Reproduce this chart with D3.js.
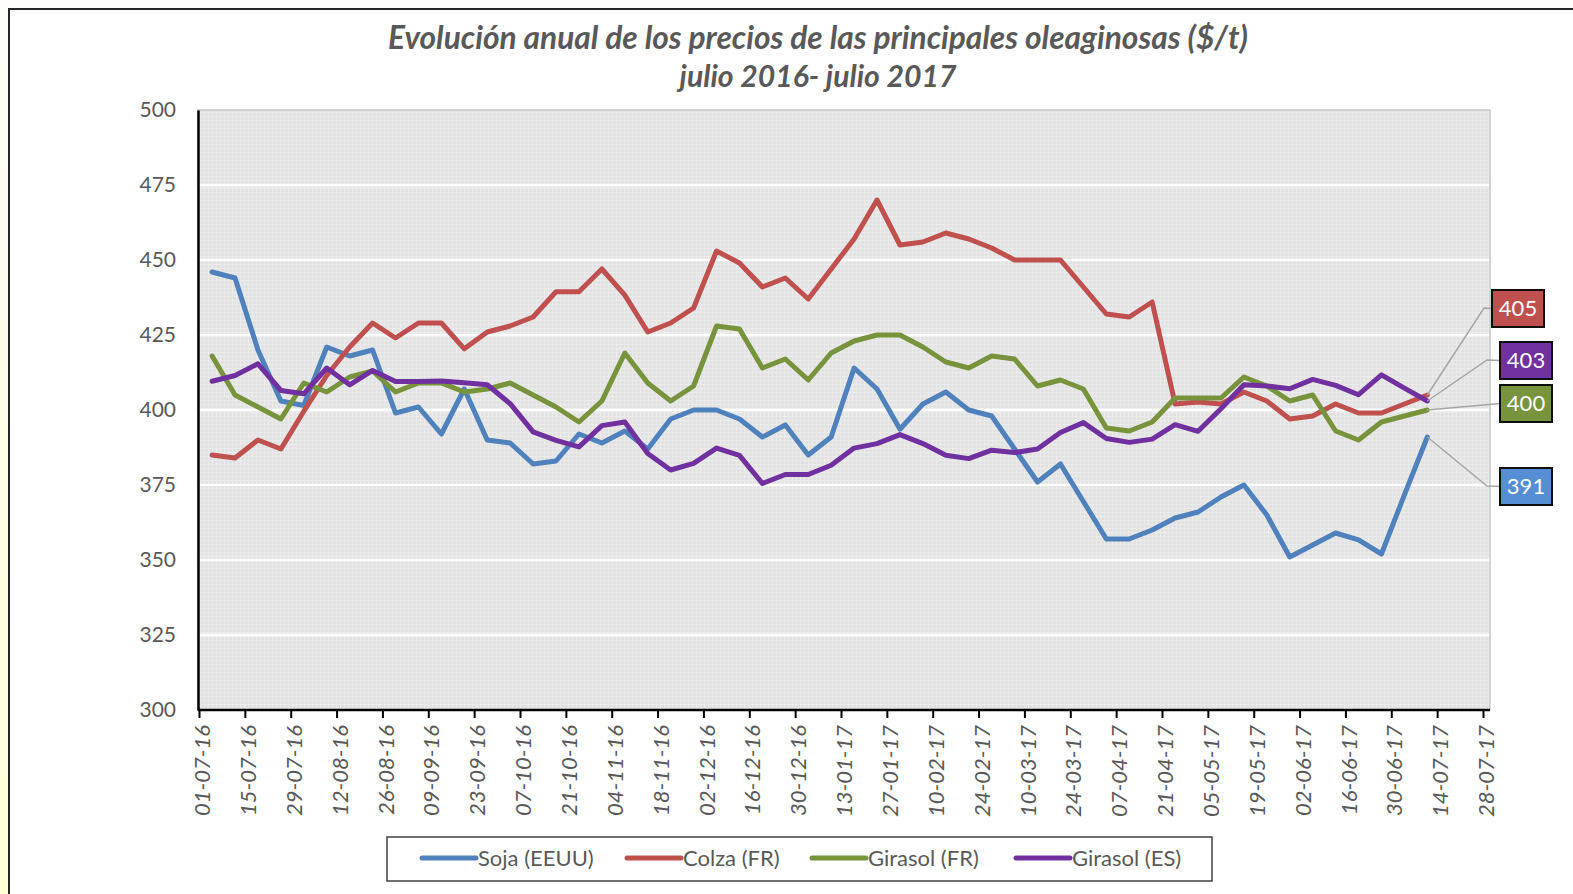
<!DOCTYPE html>
<html>
<head>
<meta charset="utf-8">
<script src="https://cdn.jsdelivr.net/npm/d3@7"></script>
<style>
  html, body { margin: 0; padding: 0; }
  body { width: 1573px; height: 894px; overflow: hidden; background: linear-gradient(#fffef8, #ffffd6); }
  svg { display: block; font-family: Lato, "Open Sans", sans-serif; }
</style>
</head>
<body>
<svg id="chart" width="1573" height="894"></svg>
<script>
const parse = d3.timeParse('%d-%m-%y');
const fmt = d3.timeFormat('%d-%m-%y');

// weekly quotes, 05-07-16 .. 11-07-17
const dates = d3.timeDay.range(parse('05-07-16'), parse('12-07-17'), 7);

const soja = [446, 444, 420, 403, 401.5, 421, 418, 420, 399, 401, 392, 407, 390, 389, 382, 383, 392, 389,
  393, 387, 397, 400, 400, 397, 391, 395, 385, 391, 414, 407, 393.6, 402, 406, 400, 398, 387,
  376, 382, 369.5, 357, 357, 360, 364, 366, 371, 375, 365, 351, 355, 359, 356.7, 352, 371.7, 391];
const colza = [385, 384, 390, 387, 399.6, 411.5, 421, 429, 424, 429, 429, 420.4, 426, 428, 431, 439.4, 439.4, 447,
  438.3, 426, 429, 434, 453, 449, 441, 444, 437, 447, 457, 470, 455, 456, 459, 457, 454, 450,
  450, 450, 441, 432, 431, 436, 402, 402.7, 402, 406, 403, 397, 398, 402, 399, 399, 402, 405];
const girasolFR = [418, 405, 401, 397, 409, 406, 411, 413, 406, 409, 409, 406, 407, 409, 405, 401, 396, 403,
  419, 409, 403, 408, 428, 427, 414, 417, 410, 419, 423, 425, 425, 421, 416, 414, 418, 417,
  408, 410, 407, 394, 393, 396, 404, 404, 404, 411, 408, 403, 405, 393, 390, 396, 398, 400];
const girasolES = [409.6, 411.5, 415.4, 406.5, 405.4, 414, 408.4, 413.2, 409.5, 409.5, 409.7, 409.1, 408.4, 402.1, 392.7, 389.9, 387.7, 394.8,
  396, 385.5, 380, 382.2, 387.3, 384.9, 375.5, 378.5, 378.5, 381.6, 387.3, 388.8, 391.8, 388.8, 384.9, 383.8, 386.6, 385.8,
  387, 392.5, 395.8, 390.5, 389.2, 390.3, 395.1, 392.9, 400.4, 408.4, 408, 407.1, 410.2, 408.2, 405.1, 411.7, 407.3, 403];

const seriesNames = ['Soja (EEUU)', 'Colza (FR)', 'Girasol (FR)', 'Girasol (ES)'];
const seriesValues = [soja, colza, girasolFR, girasolES];
const seriesColors = ['#4f81bd', '#c0504d', '#77933c', '#7030a0'];

const yTicks = [300, 325, 350, 375, 400, 425, 450, 475, 500];
const xTicks = d3.timeDay.range(parse('01-07-16'), parse('29-07-17'), 14);

const titleLines = ['Evolución anual de los precios de las principales oleaginosas ($/t)', 'julio 2016- julio 2017'];

// layout
const plot = { left: 198, right: 1490, top: 110, bottom: 710 };
const textColor = '#595959';

const svg = d3.select('#chart');

// outer frame
svg.append('rect')
  .attr('x', 9).attr('y', 9).attr('width', 1600).attr('height', 920)
  .attr('fill', '#fff').attr('stroke', '#262626').attr('stroke-width', 2);

// scales
const x = d3.scaleTime()
  .domain([parse('01-07-16'), parse('28-07-17')])
  .range([199, 1483]);
const y = d3.scaleLinear().domain([300, 500]).range([plot.bottom, plot.top]);

// plot background with fine dotted texture
const defs = svg.append('defs');
const pat = defs.append('pattern')
  .attr('id', 'dots').attr('width', 4).attr('height', 4)
  .attr('patternUnits', 'userSpaceOnUse');
pat.append('rect').attr('width', 4).attr('height', 4).attr('fill', '#e2e2e2');
pat.append('rect').attr('width', 4).attr('height', 1).attr('fill', '#ebebeb');
pat.append('rect').attr('width', 1).attr('height', 4).attr('fill', '#ebebeb');

svg.append('rect')
  .attr('x', plot.left).attr('y', plot.top)
  .attr('width', plot.right - plot.left).attr('height', plot.bottom - plot.top)
  .attr('fill', 'url(#dots)')
  .attr('stroke', '#c8c8c8').attr('stroke-width', 1.5);

// gridlines
svg.append('g')
  .selectAll('line')
  .data(yTicks.filter((d) => d > 300 && d < 500))
  .join('line')
  .attr('x1', plot.left).attr('x2', plot.right - 1)
  .attr('y1', (d) => y(d)).attr('y2', (d) => y(d))
  .attr('stroke', '#ffffff').attr('stroke-width', 2.5);

// y axis
const yAxis = svg.append('g')
  .attr('transform', `translate(${plot.left},0)`)
  .call(d3.axisLeft(y).tickValues(yTicks).tickSize(0).tickPadding(22));
yAxis.select('.domain').attr('stroke', '#000').attr('stroke-width', 2.5);
yAxis.selectAll('text')
  .attr('fill', textColor).style('font-size', '21px').style('font-family', 'Lato, sans-serif');

// x axis
const xAxis = svg.append('g')
  .attr('transform', `translate(0,${plot.bottom})`)
  .call(d3.axisBottom(x).tickValues(xTicks).tickFormat(fmt).tickSize(8).tickSizeOuter(0));
xAxis.select('.domain')
  .attr('d', `M${plot.left},0H${plot.right}`)
  .attr('stroke', '#000').attr('stroke-width', 2.5);
xAxis.selectAll('.tick line').attr('stroke', '#000').attr('stroke-width', 2);
xAxis.selectAll('.tick text')
  .attr('fill', textColor)
  .style('font-size', '22px').style('font-style', 'italic').style('font-family', 'Lato, sans-serif')
  .attr('transform', 'rotate(-90)')
  .attr('text-anchor', 'end')
  .attr('x', -15).attr('y', 3).attr('dy', '0.35em');

// series lines
const line = d3.line()
  .x((d, i) => x(dates[i]))
  .y((d) => y(d));

svg.append('g')
  .selectAll('path')
  .data(seriesValues)
  .join('path')
  .attr('d', line)
  .attr('fill', 'none')
  .attr('stroke', (d, i) => seriesColors[i])
  .attr('stroke-width', 5)
  .attr('stroke-linejoin', 'round')
  .attr('stroke-linecap', 'round');

// last-value callouts
const callouts = [
  { s: 1, box: [1492, 290], elbow: [1484, 308] },
  { s: 3, box: [1500, 342], elbow: [1487, 360] },
  { s: 2, box: [1500, 385], elbow: null },
  { s: 0, box: [1500, 468], elbow: [1487, 486] },
];
const last = dates.length - 1;
const cg = svg.append('g');
callouts.forEach((c) => {
  const v = seriesValues[c.s][last];
  const px = x(dates[last]), py = y(v);
  const bw = 52, bh = 37;
  const midY = c.box[1] + bh / 2;
  const pts = c.elbow ? [[px, py], c.elbow, [c.box[0], midY]] : [[px, py], [c.box[0], midY]];
  cg.append('path')
    .attr('d', d3.line()(pts))
    .attr('fill', 'none').attr('stroke', '#a6a6a6').attr('stroke-width', 1.5);
  cg.append('rect')
    .attr('x', c.box[0]).attr('y', c.box[1]).attr('width', bw).attr('height', bh)
    .attr('fill', seriesColors[c.s] === '#4f81bd' ? '#558ed5' : seriesColors[c.s])
    .attr('stroke', '#0d0d0d').attr('stroke-width', 2);
  cg.append('text')
    .attr('x', c.box[0] + bw / 2).attr('y', midY).attr('dy', '0.35em')
    .attr('text-anchor', 'middle').attr('fill', '#fff')
    .style('font-size', '22px')
    .text(d3.format('.0f')(v));
});

// title
const title = svg.append('g');
const titleSpec = [{ cy: 38, w: 860 }, { cy: 76, w: 277 }];
titleLines.forEach((t, i) => {
  const el = title.append('text')
    .attr('x', 818).attr('y', titleSpec[i].cy).attr('dy', '0.35em')
    .attr('text-anchor', 'middle').attr('fill', textColor)
    .style('font-weight', 'bold').style('font-style', 'italic')
    .style('font-size', '26px')
    .text(t);
  const w = el.node().getComputedTextLength();
  el.style('font-size', (26 * titleSpec[i].w / w).toFixed(2) + 'px');
});

// legend
const legend = svg.append('g');
legend.append('rect')
  .attr('x', 387).attr('y', 837).attr('width', 825).attr('height', 44)
  .attr('fill', '#fff').attr('stroke', '#404040').attr('stroke-width', 1.5);
const legendX = [422, 627, 812, 1016];
seriesNames.forEach((n, i) => {
  legend.append('line')
    .attr('x1', legendX[i]).attr('x2', legendX[i] + 54)
    .attr('y1', 858).attr('y2', 858)
    .attr('stroke', seriesColors[i]).attr('stroke-width', 5).attr('stroke-linecap', 'round');
  legend.append('text')
    .attr('x', legendX[i] + 56).attr('y', 858).attr('dy', '0.35em')
    .attr('fill', textColor).style('font-size', '22px')
    .text(n);
});
</script>
</body>
</html>
